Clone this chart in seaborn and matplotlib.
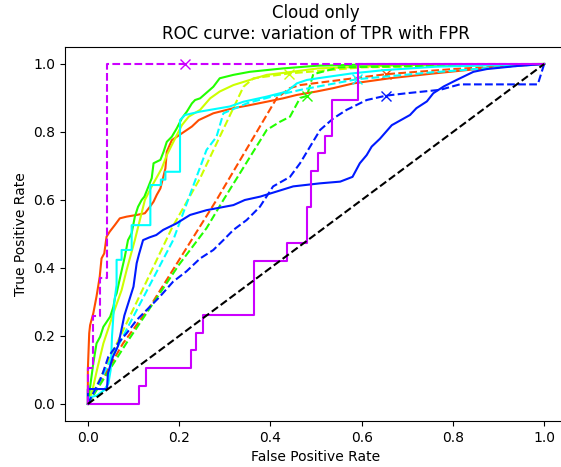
import numpy as np
import pandas as pd
import matplotlib
matplotlib.use('Agg')
import matplotlib.pyplot as plt
import seaborn as sns

# --- ROC curves (FPR, TPR) ---
orange_fpr = [0, 0, 0.003, 0.005, 0.012, 0.019, 0.026, 0.03, 0.036, 0.041, 0.048, 0.059, 0.07, 0.085,
              0.107, 0.125, 0.136, 0.144, 0.151, 0.159, 0.17, 0.173, 0.184, 0.195, 0.206, 0.228, 0.243,
              0.275, 0.319, 0.355, 0.392, 0.428, 0.458, 0.501, 0.538, 0.582, 0.662, 0.757, 0.83, 0.904, 1.0]
orange_tpr = [0, 0.1, 0.208, 0.232, 0.267, 0.316, 0.374, 0.428, 0.443, 0.492, 0.507, 0.526, 0.546, 0.551,
              0.556, 0.561, 0.58, 0.595, 0.615, 0.634, 0.693, 0.742, 0.776, 0.786, 0.796, 0.816, 0.835,
              0.855, 0.87, 0.879, 0.889, 0.899, 0.909, 0.919, 0.929, 0.943, 0.958, 0.972, 0.982, 0.992, 1.0]
orange_d_fpr = [0, 0.077, 0.136, 0.282, 0.414, 0.443, 0.465, 0.654, 0.8, 1.0]
orange_d_tpr = [0, 0.178, 0.286, 0.6, 0.9, 0.929, 0.938, 0.97, 0.985, 1.0]

yellow_fpr = [0, 0.01, 0.02, 0.034, 0.056, 0.074, 0.085, 0.103, 0.114, 0.125, 0.14, 0.162, 0.173, 0.195,
              0.206, 0.221, 0.246, 0.268, 0.289, 0.319, 0.355, 0.392, 0.436, 0.504, 0.7, 1.0]
yellow_tpr = [0, 0.04, 0.1, 0.178, 0.267, 0.335, 0.394, 0.482, 0.541, 0.6, 0.64, 0.693, 0.732, 0.791,
              0.82, 0.845, 0.865, 0.899, 0.919, 0.938, 0.953, 0.968, 0.975, 0.987, 0.997, 1.0]
yellow_d_fpr = [0, 0.1, 0.184, 0.246, 0.341, 0.363, 0.44, 0.6, 1.0]
yellow_d_tpr = [0, 0.28, 0.517, 0.664, 0.933, 0.958, 0.972, 0.99, 1.0]

green_fpr = [0, 0.005, 0.012, 0.019, 0.027, 0.034, 0.049, 0.056, 0.06, 0.063, 0.071, 0.081, 0.088, 0.096,
             0.103, 0.11, 0.118, 0.124, 0.14, 0.144, 0.159, 0.166, 0.173, 0.184, 0.195, 0.206, 0.217,
             0.228, 0.235, 0.246, 0.275, 0.289, 0.319, 0.355, 0.428, 0.504, 0.6, 1.0]
green_tpr = [0, 0.05, 0.12, 0.178, 0.198, 0.227, 0.257, 0.286, 0.316, 0.325, 0.374, 0.433, 0.482, 0.502,
             0.551, 0.58, 0.6, 0.61, 0.664, 0.708, 0.718, 0.742, 0.771, 0.786, 0.811, 0.84, 0.86,
             0.884, 0.894, 0.899, 0.933, 0.958, 0.968, 0.977, 0.987, 0.995, 0.998, 1.0]
green_d_fpr = [0, 0.085, 0.2, 0.26, 0.297, 0.392, 0.421, 0.443, 0.465, 0.48, 0.494, 0.55, 1.0]
green_d_tpr = [0, 0.18, 0.41, 0.517, 0.6, 0.806, 0.83, 0.845, 0.9, 0.906, 0.97, 0.99, 1.0]

cyan_fpr = [0, 0.005, 0.02, 0.035, 0.045, 0.05, 0.053, 0.058, 0.063, 0.063, 0.074, 0.074, 0.096, 0.096,
            0.137, 0.137, 0.16, 0.16, 0.17, 0.17, 0.202, 0.202, 0.213, 0.246, 0.311, 0.341, 0.392,
            0.436, 0.458, 0.48, 0.504, 0.577, 0.65, 0.763, 1.0]
cyan_tpr = [0, 0.02, 0.025, 0.04, 0.06, 0.1, 0.2, 0.3, 0.35, 0.424, 0.424, 0.453, 0.453, 0.526,
            0.526, 0.644, 0.644, 0.66, 0.66, 0.683, 0.683, 0.835, 0.85, 0.86, 0.875, 0.889, 0.904,
            0.919, 0.943, 0.953, 0.958, 0.972, 0.982, 0.992, 1.0]
cyan_d_fpr = [0, 0.187, 0.26, 0.282, 0.297, 0.35, 0.42, 0.47, 0.589, 0.75, 1.0]
cyan_d_tpr = [0, 0.482, 0.747, 0.786, 0.855, 0.885, 0.91, 0.925, 0.955, 0.975, 1.0]

blue_fpr = [0, 0, 0.042, 0.044, 0.055, 0.066, 0.075, 0.08, 0.1, 0.107, 0.112, 0.121, 0.135, 0.15, 0.165,
            0.194, 0.224, 0.26, 0.319, 0.344, 0.378, 0.414, 0.45, 0.509, 0.553, 0.58, 0.596, 0.611,
            0.622, 0.64, 0.666, 0.706, 0.72, 0.743, 0.757, 0.78, 0.808, 0.845, 0.874, 0.94, 1.0]
blue_tpr = [0, 0.044, 0.044, 0.09, 0.139, 0.17, 0.227, 0.26, 0.345, 0.414, 0.44, 0.482, 0.49, 0.497, 0.512,
            0.531, 0.556, 0.57, 0.585, 0.6, 0.61, 0.625, 0.64, 0.649, 0.654, 0.668, 0.708, 0.732,
            0.757, 0.78, 0.82, 0.85, 0.87, 0.89, 0.914, 0.934, 0.953, 0.977, 0.985, 0.994, 1.0]
blue_d_fpr = [0, 0.03, 0.045, 0.066, 0.085, 0.107, 0.136, 0.158, 0.187, 0.216, 0.246, 0.275, 0.297, 0.319,
              0.348, 0.377, 0.406, 0.443, 0.465, 0.487, 0.509, 0.538, 0.567, 0.611, 0.654, 0.699, 0.772,
              0.815, 0.986, 1.0]
blue_d_tpr = [0, 0.08, 0.139, 0.178, 0.208, 0.247, 0.286, 0.316, 0.36, 0.39, 0.428, 0.453, 0.482, 0.512,
              0.541, 0.58, 0.64, 0.668, 0.708, 0.757, 0.806, 0.84, 0.865, 0.894, 0.907, 0.914, 0.924,
              0.94, 0.94, 1.0]

magenta_fpr = [0, 0.112, 0.112, 0.127, 0.127, 0.225, 0.225, 0.238, 0.238, 0.253, 0.253, 0.365, 0.365,
               0.436, 0.436, 0.48, 0.48, 0.49, 0.49, 0.505, 0.505, 0.52, 0.52, 0.534, 0.534, 0.591, 0.591, 1.0]
magenta_tpr = [0, 0, 0.053, 0.053, 0.105, 0.105, 0.158, 0.158, 0.21, 0.21, 0.263, 0.263, 0.421,
               0.421, 0.474, 0.474, 0.579, 0.579, 0.684, 0.684, 0.737, 0.737, 0.789, 0.789, 0.895, 0.895, 1.0, 1.0]
magenta_d_fpr = [0, 0, 0.011, 0.011, 0.026, 0.026, 0.041, 0.041, 1.0]
magenta_d_tpr = [0, 0.106, 0.106, 0.26, 0.26, 0.37, 0.37, 1.0, 1.0]

# operating points marked with an 'x' on the dashed curves
point_fpr = [0.654, 0.44, 0.48, 0.589, 0.654, 0.212]
point_tpr = [0.97, 0.972, 0.906, 0.955, 0.907, 1.0]

colors = ['#ff4d00', '#ccff00', '#22ff00', '#00ffff', '#001aff', '#cc00ff']

curves = [
    (orange_fpr, orange_tpr, orange_d_fpr, orange_d_tpr),
    (yellow_fpr, yellow_tpr, yellow_d_fpr, yellow_d_tpr),
    (green_fpr, green_tpr, green_d_fpr, green_d_tpr),
    (cyan_fpr, cyan_tpr, cyan_d_fpr, cyan_d_tpr),
    (blue_fpr, blue_tpr, blue_d_fpr, blue_d_tpr),
    (magenta_fpr, magenta_tpr, magenta_d_fpr, magenta_d_tpr),
]

fig = plt.figure(figsize=(5.61, 4.67), dpi=100)
ax = fig.add_axes([0.1159, 0.0985, 0.8948, 0.8009])

for i, (fpr, tpr, fpr_d, tpr_d) in enumerate(curves):
    c = colors[i]
    sns.lineplot(x=fpr, y=tpr, estimator=None, sort=False, color=c, lw=1.5, ax=ax)
    sns.lineplot(x=fpr_d, y=tpr_d, estimator=None, sort=False, color=c, lw=1.5, linestyle='--', ax=ax)
    ax.plot(point_fpr[i], point_tpr[i], 'x', color=c, markersize=7, mew=1.0)

sns.lineplot(x=[0, 1], y=[0, 1], color='black', linestyle='--', lw=1.5, ax=ax)

ax.set_xlim(-0.05, 1.05)
ax.set_ylim(-0.05, 1.05)
ax.set_xticks([0.0, 0.2, 0.4, 0.6, 0.8, 1.0])
ax.set_yticks([0.0, 0.2, 0.4, 0.6, 0.8, 1.0])
ax.set_xlabel('False Positive Rate')
ax.set_ylabel('True Positive Rate')
ax.set_title('Cloud only\nROC curve: variation of TPR with FPR')

plt.savefig('out.png', dpi=100)
